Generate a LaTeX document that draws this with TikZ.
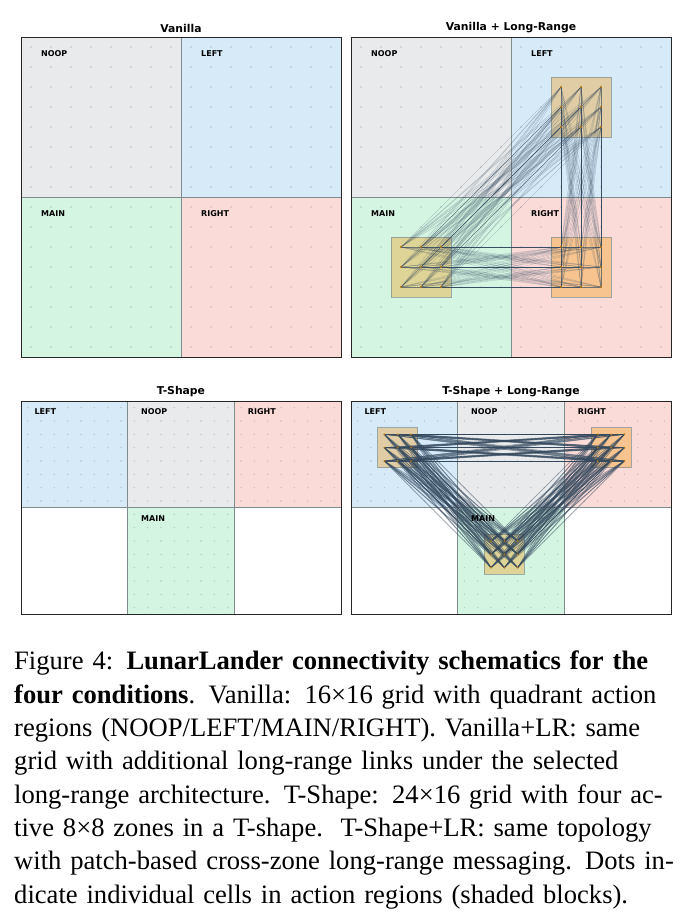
\documentclass[tikz,border=0pt]{standalone}
\usepackage{fontspec}
\setmainfont{Liberation Serif}
\newfontfamily\plotfont{DejaVu Sans}
\definecolor{cNoop}{HTML}{E8EAEB}
\definecolor{cLeft}{HTML}{D6EAF8}
\definecolor{cMain}{HTML}{D5F5E3}
\definecolor{cRight}{HTML}{FADBD8}
\definecolor{cEdge}{HTML}{7F8C8D}
\definecolor{cDot}{HTML}{9AA3A6}
\definecolor{cPatch}{HTML}{F39C12}
\definecolor{cLink}{HTML}{34495E}
\definecolor{cNode}{HTML}{B9770E}
\newcommand\quadbase[1]{%
  \fill[cNoop] (0,0) rectangle (160,160);
  \fill[cLeft] (160,0) rectangle (320,160);
  \fill[cMain] (0,160) rectangle (160,320);
  \fill[cRight] (160,160) rectangle (320,320);
  \foreach \i in {0,...,15}{\foreach \j in {0,...,15}{\fill[celldot] ({20*\i+10},{20*\j+10}) circle (0.9pt);}}
  \draw[regionedge] (0,0) rectangle (160,160);
  \draw[regionedge] (160,0) rectangle (320,160);
  \draw[regionedge] (0,160) rectangle (160,320);
  \draw[regionedge] (160,160) rectangle (320,320);
}
\newcommand\quadlabels[1]{%
  \node[rlabel] (#1noop) at (20,17) {NOOP};
  \node[rlabel] (#1left) at (180,17) {LEFT};
  \node[rlabel] (#1main) at (20,177) {MAIN};
  \node[rlabel] (#1right) at (180,177) {RIGHT};
  \draw[panelframe] (0,0) rectangle (320,320);
}
\newcommand\tbase[1]{%
  \fill[cLeft] (0,0) rectangle (106.667,106.667);
  \fill[cNoop] (106.667,0) rectangle (213.333,106.667);
  \fill[cRight] (213.333,0) rectangle (320,106.667);
  \fill[cMain] (106.667,106.667) rectangle (213.333,213.333);
  \foreach \i in {0,...,23}{\foreach \j in {0,...,7}{\fill[celldot] ({13.3333*\i+6.6667},{13.3333*\j+6.6667}) circle (0.8pt);}}
  \foreach \i in {8,...,15}{\foreach \j in {8,...,15}{\fill[celldot] ({13.3333*\i+6.6667},{13.3333*\j+6.6667}) circle (0.8pt);}}
  \draw[regionedge] (0,0) rectangle (106.667,106.667);
  \draw[regionedge] (106.667,0) rectangle (213.333,106.667);
  \draw[regionedge] (213.333,0) rectangle (320,106.667);
  \draw[regionedge] (106.667,106.667) rectangle (213.333,213.333);
}
\newcommand\tlabels[1]{%
  \node[rlabel] (#1left) at (13.333,11) {LEFT};
  \node[rlabel] (#1noop) at (120,11) {NOOP};
  \node[rlabel] (#1right) at (226.667,11) {RIGHT};
  \node[rlabel] (#1main) at (120,117.5) {MAIN};
  \draw[panelframe] (0,0) rectangle (320,213.333);
}
\begin{document}
\begin{tikzpicture}[x=1pt,y=-1pt,
  panelframe/.style={draw=black!85, line width=0.9pt},
  regionedge/.style={draw=cEdge, line width=0.6pt},
  celldot/.style={fill=cDot, fill opacity=0.55, draw=none},
  patchbox/.style={fill=cPatch, fill opacity=0.36, draw=cEdge, draw opacity=0.7, line width=0.6pt},
  lrlink/.style={draw=cLink, line width=0.35pt, draw opacity=0.3},
  lrlinkT/.style={draw=cLink, line width=0.6pt, draw opacity=0.55},
  nodedot/.style={fill=cNode, draw=none},
  ptitle/.style={font=\plotfont\bfseries\fontsize{10.8}{13}\selectfont, inner sep=0pt},
  rlabel/.style={font=\plotfont\bfseries\fontsize{8}{9.5}\selectfont, anchor=west, inner sep=0pt, text=black}]
\useasboundingbox (0,0) rectangle (692,918);
\fill[white] (0,0) rectangle (692,918);

% ---------- Vanilla ----------
\begin{scope}[shift={(21,37)}]
  \quadbase{a}
  \quadlabels{a}
\end{scope}
\node[ptitle] (titleA) at (181,28) {Vanilla};

% ---------- Vanilla + Long-Range ----------
\begin{scope}[shift={(351,37)}]
  \quadbase{b}
  \draw[patchbox] (200,40) rectangle (260,100);
  \draw[patchbox] (40,200) rectangle (100,260);
  \draw[patchbox] (200,200) rectangle (260,260);
  \foreach \a in {0,1,2}{\foreach \b in {0,1,2}{
    \coordinate (bL-\a-\b) at ({210+20*\a},{50+20*\b});
    \coordinate (bM-\a-\b) at ({50+20*\a},{210+20*\b});
    \coordinate (bR-\a-\b) at ({210+20*\a},{210+20*\b});
  }}
  \foreach \a in {0,1,2}{\foreach \b in {0,1,2}{\foreach \c in {0,1,2}{\foreach \d in {0,1,2}{
    \draw[lrlink] (bM-\a-\b) -- (bL-\c-\d);
    \draw[lrlink] (bM-\a-\b) -- (bR-\c-\d);
    \draw[lrlink] (bL-\a-\b) -- (bR-\c-\d);
  }}}}
  \foreach \a in {0,1,2}{\foreach \b in {0,1,2}{
    \fill[nodedot] (bL-\a-\b) circle (1.1pt);
    \fill[nodedot] (bM-\a-\b) circle (1.1pt);
    \fill[nodedot] (bR-\a-\b) circle (1.1pt);
  }}
  \quadlabels{b}
\end{scope}
\node[ptitle] (titleB) at (511,28) {Vanilla + Long-Range};

% ---------- T-Shape ----------
\begin{scope}[shift={(21,401)}]
  \tbase{c}
  \tlabels{c}
\end{scope}
\node[ptitle] (titleC) at (181,392) {T-Shape};

% ---------- T-Shape + Long-Range ----------
\begin{scope}[shift={(351,401)}]
  \tbase{d}
  \draw[patchbox] (26.667,26.667) rectangle (66.667,66.667);
  \draw[patchbox] (240,26.667) rectangle (280,66.667);
  \draw[patchbox] (133.333,133.333) rectangle (173.333,173.333);
  \foreach \a in {0,1,2}{\foreach \b in {0,1,2}{
    \coordinate (dL-\a-\b) at ({13.3333*(2+\a)+6.6667},{13.3333*(2+\b)+6.6667});
    \coordinate (dR-\a-\b) at ({13.3333*(18+\a)+6.6667},{13.3333*(2+\b)+6.6667});
    \coordinate (dM-\a-\b) at ({13.3333*(10+\a)+6.6667},{13.3333*(10+\b)+6.6667});
  }}
  \foreach \a in {0,1,2}{\foreach \b in {0,1,2}{\foreach \c in {0,1,2}{\foreach \d in {0,1,2}{
    \draw[lrlinkT] (dL-\a-\b) -- (dR-\c-\d);
    \draw[lrlinkT] (dL-\a-\b) -- (dM-\c-\d);
    \draw[lrlinkT] (dR-\a-\b) -- (dM-\c-\d);
  }}}}
  \foreach \a in {0,1,2}{\foreach \b in {0,1,2}{
    \fill[nodedot] (dL-\a-\b) circle (1pt);
    \fill[nodedot] (dR-\a-\b) circle (1pt);
    \fill[nodedot] (dM-\a-\b) circle (1pt);
  }}
  \tlabels{d}
\end{scope}
\node[ptitle] (titleD) at (511,392) {T-Shape + Long-Range};

% ---------- Caption ----------
\node[anchor=north west, inner sep=0pt, text width=663pt,
      font=\fontsize{26.6}{33.3}\selectfont] (caption) at (14,651) {%
\makebox[663pt][s]{Figure 4: \textbf{LunarLander connectivity schematics for the}}\\
\makebox[663pt][s]{\textbf{four conditions}. Vanilla: 16×16 grid with quadrant action}\\
\makebox[663pt][s]{regions (NOOP/LEFT/MAIN/RIGHT). Vanilla+LR: same}\\
\makebox[663pt][s]{grid with additional long-range links under the selected}\\
\makebox[663pt][s]{long-range architecture. T-Shape: 24×16 grid with four ac-}\\
\makebox[663pt][s]{tive 8×8 zones in a T-shape.\ \ T-Shape+LR: same topology}\\
\makebox[663pt][s]{with patch-based cross-zone long-range messaging. Dots in-}\\
dicate individual cells in action regions (shaded blocks).};
\end{tikzpicture}
\end{document}
